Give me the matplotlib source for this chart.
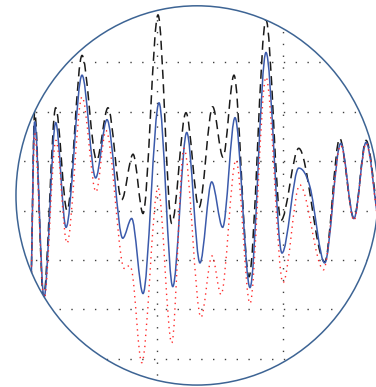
import numpy as np
import matplotlib
matplotlib.use("Agg")
import matplotlib.pyplot as plt
from matplotlib.path import Path
from matplotlib.patches import PathPatch, Ellipse

# series 1 - black dashed
x_black = [0.0, 0.29, 0.99, 1.96, 2.86, 4.05, 5.21, 6.11, 7.20, 8.10, 8.89, 10.08, 11.17,
           12.30, 13.33, 14.42, 15.24, 16.11, 17.30, 18.65, 19.84, 21.25, 23.31, 24.50,
           25.63, 26.59, 27.54]
y_black = [-0.85, 1.00, -0.88, 1.04, 0.00, 1.57, 0.51, 1.04, 0.11, 0.57, -0.03, 1.98, -0.13,
           0.99, 0.03, 1.05, 0.54, 1.37, -0.67, 1.93, -0.10, 0.63, -0.52, 0.73,
           -0.08, 0.71, -0.05]

# series 2 - blue solid
x_blue = [0.0, 0.29, 1.03, 1.96, 2.78, 4.05, 5.13, 6.03, 7.28, 7.99, 8.89, 10.16, 11.25,
          12.36, 13.41, 14.34, 15.21, 16.19, 17.38, 18.65, 19.92, 21.25, 22.14, 23.31,
          24.58, 25.63, 26.59, 27.54]
y_blue = [-0.85, 0.90, -0.88, 0.89, -0.17, 1.37, 0.33, 0.92, -0.28, -0.08, -0.84, 1.09, -0.77,
          0.79, -0.53, 0.29, -0.17, 0.94, -0.78, 1.60, -0.43, 0.43, 0.24, -0.53,
          0.68, -0.08, 0.69, -0.10]

# series 3 - red dotted
x_red = [0.0, 0.29, 1.03, 1.98, 2.86, 4.05, 5.16, 5.95, 7.22, 8.02, 8.79, 10.08, 11.17,
         12.14, 13.49, 14.37, 15.08, 16.27, 17.38, 18.65, 20.00, 21.33, 23.21, 24.58,
         25.63, 26.59, 27.54]
y_red = [-0.85, 0.78, -0.91, 0.71, -0.33, 1.15, 0.19, 0.81, -0.52, -0.62, -1.54, 0.23, -1.34,
         0.63, -1.08, -0.46, -0.85, 0.51, -0.94, 1.35, -0.73, 0.26, -0.60, 0.66,
         -0.10, 0.68, -0.12]

grid_y = [-1.5, -1.0, -0.5, 0.0, 0.5, 1.0, 1.5]
grid_x = [10, 20]


def smooth_path(xs, ys):
    # piecewise cubic through the points, flat at the turning points
    xs = np.asarray(xs, float)
    ys = np.asarray(ys, float)
    n = len(xs)
    m = np.zeros(n)
    for i in range(n):
        if i == 0:
            m[i] = (ys[1] - ys[0]) / (xs[1] - xs[0])
        elif i == n - 1:
            m[i] = (ys[-1] - ys[-2]) / (xs[-1] - xs[-2])
        elif (ys[i] - ys[i - 1]) * (ys[i + 1] - ys[i]) <= 0:
            m[i] = 0.0
        else:
            m[i] = (ys[i + 1] - ys[i - 1]) / (xs[i + 1] - xs[i - 1])
    verts = [(xs[0], ys[0])]
    codes = [Path.MOVETO]
    for i in range(n - 1):
        h = xs[i + 1] - xs[i]
        verts += [(xs[i] + h / 3, ys[i] + m[i] * h / 3),
                  (xs[i + 1] - h / 3, ys[i + 1] - m[i + 1] * h / 3),
                  (xs[i + 1], ys[i + 1])]
        codes += [Path.CURVE4] * 3
    return Path(verts, codes)


fig = plt.figure(figsize=(3.76, 3.87), dpi=100)
ax = fig.add_axes([0, 0, 1, 1])
ax.set_xlim(-2.46, 27.38)
ax.set_ylim(-1.786, 2.131)
ax.axis("off")

lens = Ellipse((0.524, 0.495), 0.963, 0.980, transform=ax.transAxes,
               facecolor="none", edgecolor="none")
ax.add_patch(lens)

grid_style = dict(color="#404040", lw=1.0, linestyle=(0, (1, 7.5)), zorder=1)
for yv in grid_y:
    ln = ax.axhline(yv, **grid_style)
    ln.set_clip_path(lens)
for xv in grid_x:
    ln = ax.axvline(xv, **grid_style)
    ln.set_clip_path(lens)

series = [
    (x_black, y_black, dict(edgecolor="#1a1a1a", lw=1.1, linestyle=(0, (6, 3.5)))),
    (x_blue, y_blue, dict(edgecolor="#3b5aab", lw=1.1, linestyle="-")),
    (x_red, y_red, dict(edgecolor="#ff2a2a", lw=1.0, linestyle=(0, (1, 3)))),
]
for xs, ys, style in series:
    p = PathPatch(smooth_path(xs, ys), facecolor="none", zorder=2, **style)
    ax.add_patch(p)
    p.set_clip_path(lens)

# lens outline
ax.add_patch(Ellipse((0.524, 0.495), 0.963, 0.980, transform=ax.transAxes,
                     facecolor="none", edgecolor="#3d6494", lw=1.1, zorder=3))

fig.savefig("out.png", dpi=100)
